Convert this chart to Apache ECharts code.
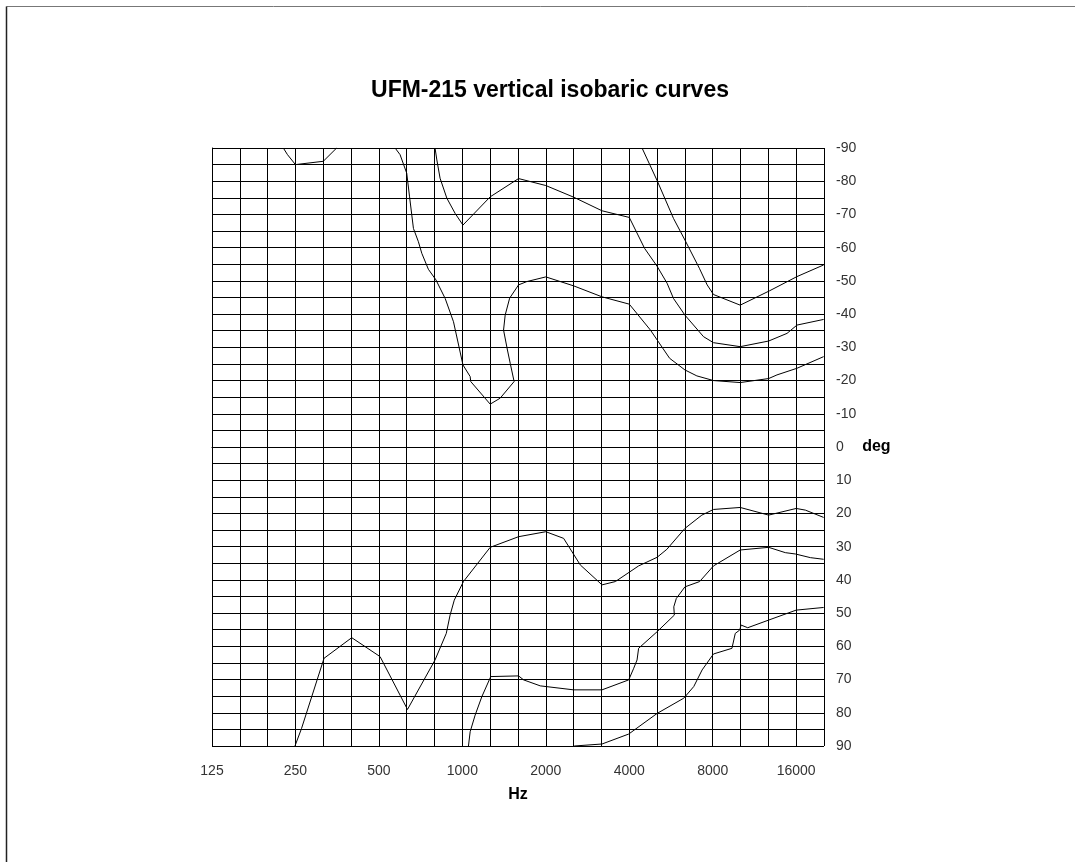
<!DOCTYPE html>
<html>
<head>
<meta charset="utf-8">
<title>UFM-215 vertical isobaric curves</title>
<script src="https://cdn.jsdelivr.net/npm/echarts@6/dist/echarts.min.js"></script>
<style>
    html, body { margin: 0; padding: 0; background: #fff; }
    #chart { width: 1075px; height: 862px; }
</style>
</head>
<body>
<div id="chart"></div>
<script>
// frequency axis: 1/3 octave grid from 125 Hz, labels every octave
const freqBase = 125;
const freqTickLabels = ['125', '250', '500', '1000', '2000', '4000', '8000', '16000'];

// isobaric curves, [frequency Hz, angle deg]
const curveTopLeft = [[226, -90], [234, -88], [250, -85], [315, -86], [352, -90]];

const curveLoop = [
    [572, -90], [596, -88], [630, -82.4], [645, -75.3], [666, -65.8], [694, -61.8],
    [714, -58.3], [754, -53.5], [803, -50.3], [867, -44.7], [929, -37.7], [1005, -24.7],
    [1067, -21.2], [1072, -19.7], [1260, -12.9], [1369, -14.7], [1537, -19.7], [1488, -25.2],
    [1454, -29.2], [1408, -35.2], [1427, -39.7], [1481, -44.8], [1595, -48.8], [1709, -49.8],
    [2000, -51.2], [2520, -48.5], [3190, -45.2], [4000, -43.0], [4768, -35.2], [5592, -26.7],
    [6350, -23.2], [7013, -21.4], [8050, -20.0], [10050, -19.4], [12730, -20.6], [13640, -21.7],
    [16110, -23.7], [20100, -27.2]
];

const curveUpper = [
    [797, -90], [809, -86.4], [831, -80.9], [879, -74.9], [942, -70.3], [1005, -66.8],
    [1260, -75.3], [1595, -80.8], [2000, -78.7], [2520, -75.2], [3190, -71.1], [4000, -69.1],
    [4542, -59.8], [5040, -54.4], [5475, -49.3], [5776, -44.7], [6350, -39.7], [7413, -33.2],
    [8050, -31.4], [10050, -30.2], [12730, -31.9], [14826, -34.2], [16110, -36.7], [20100, -38.4]
];

const curveTopRight = [
    [4448, -90], [5040, -80.2], [5776, -68.8], [6350, -62.3], [7160, -53.8], [7639, -48.8],
    [8050, -45.9], [10050, -42.7], [12813, -47.0], [16110, -51.3], [20100, -54.8]
];

const curveLow1 = [
    [249, 90], [263, 84.7], [317, 63.6], [399, 57.4], [505, 63.1], [634, 79.0], [797, 64.1],
    [875, 56.1], [903, 50.6], [935, 46.1], [1009, 40.5], [1260, 30.2], [1595, 27.0], [2000, 25.5],
    [2319, 27.5], [2663, 35.5], [3190, 41.5], [3564, 40.5], [4322, 35.8], [5040, 33.2], [5465, 30.8],
    [6350, 24.5], [7310, 20.5], [8050, 18.8], [10050, 18.2], [12730, 20.5], [16000, 18.5],
    [17270, 19.0], [20100, 21.2]
];

const curveLow2 = [
    [1052, 90], [1067, 85.7], [1112, 80.7], [1175, 75.2], [1266, 69.1], [1595, 68.9], [1663, 70.1],
    [1910, 71.9], [2520, 73.1], [3190, 73.1], [3982, 70.1], [4150, 66.6], [4267, 64.1], [4322, 60.6],
    [5040, 55.6], [5816, 50.6], [5790, 48.1], [5912, 45.6], [6350, 42.1], [7175, 40.5], [8050, 35.8],
    [10050, 31.0], [12730, 30.2], [14620, 31.8], [15890, 32.2], [18000, 33.3], [20100, 33.8]
];

const curveLow3 = [
    [2531, 90], [3190, 89.4], [3982, 86.4], [5040, 80.2], [6291, 75.6], [6835, 72.1], [7326, 67.1],
    [8050, 62.3], [9384, 60.6], [9647, 56.1], [10010, 55.1], [10123, 53.6], [10700, 54.4],
    [12730, 52.1], [16000, 49.1], [20100, 48.3]
];

const curves = [curveTopLeft, curveLoop, curveUpper, curveTopRight, curveLow1, curveLow2, curveLow3];

const FONT = '"Liberation Sans", Arial, sans-serif';

// position on the 1/3-octave band axis
function band(freq) {
    return 3 * Math.log2(freq / freqBase);
}

function initChart() {
    const chart = echarts.init(document.getElementById('chart'));
    chart.setOption({
        animation: false,
        backgroundColor: '#fff',
        title: {
            text: 'UFM-215 vertical isobaric curves',
            left: 545,
            top: 74,
            textAlign: 'center',
            textStyle: { fontFamily: FONT, fontSize: 23, fontWeight: 'bold', color: '#000' }
        },
        grid: { left: 212, right: 251, top: 148, bottom: 116 },
        xAxis: {
            type: 'value',
            min: 0,
            max: 22,
            interval: 1,
            name: 'Hz',
            nameLocation: 'middle',
            nameGap: 41,
            nameTextStyle: { fontFamily: FONT, fontSize: 16, fontWeight: 'bold', color: '#000' },
            axisLine: { show: true, lineStyle: { color: '#000', width: 1 } },
            axisTick: { show: true, length: 12, lineStyle: { color: '#000', width: 1 } },
            axisLabel: {
                margin: 18,
                fontFamily: FONT,
                fontSize: 14,
                color: '#333',
                formatter: v => (v % 3 === 0 ? freqTickLabels[v / 3] : '')
            },
            splitLine: { show: true, lineStyle: { color: '#000', width: 1 } }
        },
        yAxis: {
            type: 'value',
            position: 'right',
            inverse: true,
            min: -90,
            max: 90,
            interval: 10,
            name: 'deg',
            nameLocation: 'middle',
            nameRotate: 0,
            nameGap: 33,
            nameTextStyle: { fontFamily: FONT, fontSize: 16, fontWeight: 'bold', color: '#000', padding: [5, 0, 0, 0] },
            axisLine: { show: true, lineStyle: { color: '#000', width: 1 } },
            axisTick: { show: true, length: 10, lineStyle: { color: '#000', width: 1 } },
            axisLabel: { margin: 12, fontFamily: FONT, fontSize: 14, color: '#333' },
            splitLine: { show: true, lineStyle: { color: '#000', width: 1 } },
            minorTick: { show: false, splitNumber: 2 },
            minorSplitLine: { show: true, lineStyle: { color: '#000', width: 1 } }
        },
        graphic: [
            { type: 'line', shape: { x1: 6.5, y1: 6.5, x2: 1075, y2: 6.5 }, style: { stroke: '#777', lineWidth: 1 } },
            { type: 'line', shape: { x1: 6.5, y1: 6.5, x2: 6.5, y2: 862 }, style: { stroke: '#222', lineWidth: 1.5 } }
        ],
        series: curves.map(c => ({
            type: 'line',
            data: c.map(p => [band(p[0]), p[1]]),
            showSymbol: false,
            symbol: 'none',
            lineStyle: { color: '#000', width: 1 },
            silent: true
        }))
    });
}

window.addEventListener('DOMContentLoaded', initChart);
</script>
</body>
</html>
